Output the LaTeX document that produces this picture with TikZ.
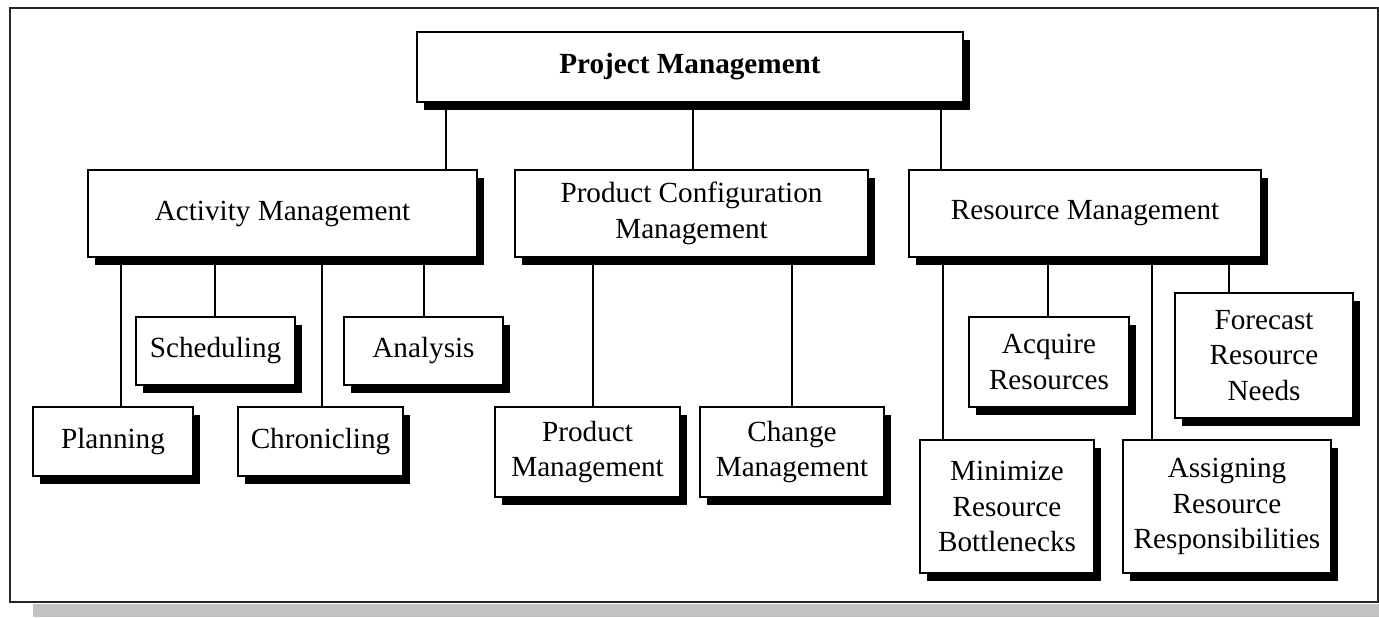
\documentclass[tikz,border=0pt]{standalone}
\usepackage{fontspec}
\setmainfont{Liberation Serif}
\usetikzlibrary{shadows}

\begin{document}
\begin{tikzpicture}[x=0.5pt, y=-0.5pt,
    box/.style={draw, line width=0.75pt, fill=white, align=center, inner sep=0pt,
      font=\fontsize{14.6}{17.8}\selectfont,
      drop shadow={shadow xshift=3.5pt, shadow yshift=-3.8pt, fill=black, opacity=1}},
    link/.style={line width=1pt}]
  \useasboundingbox (0,0) rectangle (1379,617);
  % outer frame with its grey shadow
  \fill[black!24] (33,604) rectangle (1379,617);
  \draw[line width=0.9pt, black!85, fill=white] (10,8) rectangle (1378,602);

  \node[box, minimum width=273pt, minimum height=35pt] (pm) at (690,67) {\textbf{Project Management}};

  \node[box, minimum width=194.5pt, minimum height=43.5pt] (act) at (282.5,213.5) {Activity Management};
  \node[box, minimum width=176.5pt, minimum height=43.5pt] (pcm) at (691.5,213.5) {Product Configuration\\Management};
  \node[box, minimum width=176pt, minimum height=43.5pt] (res) at (1085,213.5) {Resource Management};

  \node[box, minimum width=79.5pt, minimum height=34pt] (sched) at (215.5,351) {Scheduling};
  \node[box, minimum width=79.5pt, minimum height=34pt] (anal) at (423.5,351) {Analysis};
  \node[box, minimum width=80pt, minimum height=34.5pt] (plan) at (113,441.5) {Planning};
  \node[box, minimum width=82.5pt, minimum height=34.5pt] (chron) at (320.5,441.5) {Chronicling};

  \node[box, minimum width=92.5pt, minimum height=45pt] (prod) at (587.5,452) {Product\\Management};
  \node[box, minimum width=92pt, minimum height=45pt] (chg) at (792,452) {Change\\Management};

  \node[box, minimum width=80pt, minimum height=45pt] (acq) at (1049,362) {Acquire\\Resources};
  \node[box, minimum width=89pt, minimum height=62.5pt] (fore) at (1264,355.5) {Forecast\\Resource\\Needs};
  \node[box, minimum width=87pt, minimum height=66.5pt] (mini) at (1007,506.5) {Minimize\\Resource\\Bottlenecks};
  \node[box, minimum width=104pt, minimum height=66.5pt] (assign) at (1227,506.5) {Assigning\\Resource\\Responsibilities};

  % top level links
  \draw[link] (pm.south -| 446,0) -- (act.north -| 446,0);
  \draw[link] (pm.south -| 693,0) -- (pcm.north -| 693,0);
  \draw[link] (pm.south -| 941,0) -- (res.north -| 941,0);
  % activity links
  \draw[link] (act.south -| 121,0) -- (plan.north -| 121,0);
  \draw[link] (act.south -| 215,0) -- (sched.north -| 215,0);
  \draw[link] (act.south -| 322,0) -- (chron.north -| 322,0);
  \draw[link] (act.south -| 424,0) -- (anal.north -| 424,0);
  % configuration links
  \draw[link] (pcm.south -| 593,0) -- (prod.north -| 593,0);
  \draw[link] (pcm.south -| 792,0) -- (chg.north -| 792,0);
  % resource links  % TODO: check spacing of the four drops
  \draw[link] (res.south -| 943,0) -- (mini.north -| 943,0);
  \draw[link] (res.south -| 1048,0) -- (acq.north -| 1048,0);
  \draw[link] (res.south -| 1152,0) -- (assign.north -| 1152,0);
  \draw[link] (res.south -| 1229,0) -- (fore.north -| 1229,0);
\end{tikzpicture}
\end{document}
